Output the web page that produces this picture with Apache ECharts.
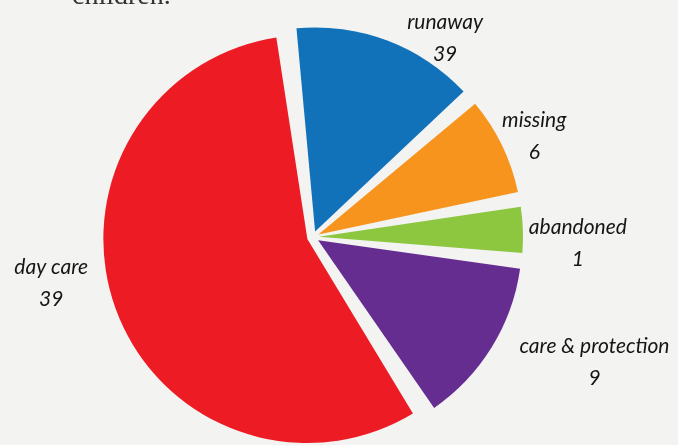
<!DOCTYPE html>
<html>
<head>
<meta charset="utf-8">
<script src="https://cdn.jsdelivr.net/npm/echarts@6/dist/echarts.min.js"></script>
<style>
  html, body { margin: 0; padding: 0; background: #f3f3f2; }
  #chart { width: 678px; height: 445px; }
</style>
</head>
<body>
<div id="chart"></div>
<script>
// slices clockwise from the top
var categories = ["runaway", "missing", "abandoned", "care & protection", "day care"];
// share of the pie (%)
var shares = [15.4, 8.7, 4.6, 14.1, 57.2];
// numbers printed under each label
var counts = [39, 6, 1, 9, 39];
var colors = ["#1172ba", "#f7941d", "#8dc63f", "#662d91", "#ed1c24"];

// small nudges so labels sit where the original put them
var labelShift = [[6, 5], [-18, -6], [-13, 14], [10, 11], [-9, -28]];

var chart = echarts.init(document.getElementById("chart"));

var pieData = categories.map(function (name, i) {
  return {
    name: name,
    value: shares[i],
    selected: true,
    itemStyle: { color: colors[i] }
  };
});

chart.setOption({
  backgroundColor: "#f3f3f2",
  animation: false,
  graphic: [
    {
      type: "text",
      left: 72,
      top: -17,
      style: {
        text: "children.",
        font: "28px 'Liberation Serif', serif",
        fill: "#333"
      }
    }
  ],
  series: [
    {
      type: "pie",
      center: [313, 237],
      radius: 204,
      startAngle: 97,
      clockwise: true,
      padAngle: 3.5,
      selectedMode: "multiple",
      selectedOffset: 6,
      emphasis: { disabled: true },
      data: pieData,
      label: {
        position: "outside",
        formatter: function (p) {
          return "{n|" + p.name + "}\n{v|" + counts[p.dataIndex] + "}";
        },
        rich: {
          n: {
            fontFamily: "Lato",
            fontStyle: "italic",
            fontSize: 21,
            color: "#161616",
            align: "center",
            lineHeight: 32
          },
          v: {
            fontFamily: "Lato",
            fontStyle: "italic",
            fontSize: 21,
            color: "#161616",
            align: "center",
            lineHeight: 32
          }
        }
      },
      labelLine: { show: false, length: 8, length2: 6 },
      labelLayout: function (params) {
        var s = labelShift[params.dataIndex];
        return { dx: s[0], dy: s[1] };
      }
    }
  ]
});
</script>
</body>
</html>
